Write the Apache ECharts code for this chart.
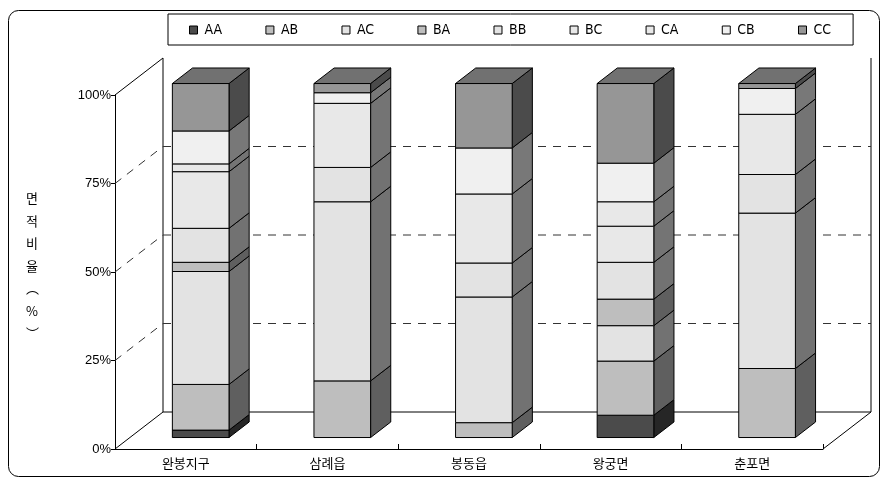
<!DOCTYPE html>
<html>
<head>
<meta charset="utf-8">
<script src="https://cdn.jsdelivr.net/npm/echarts@6/dist/echarts.min.js"></script>
<style>
html,body{margin:0;padding:0;background:#fff}
#chart{width:882px;height:480px}
</style>
</head>
<body>
<div id="chart"></div>
<script>
// Land-area share (%) of each class per district
const categories = ['완봉지구', '삼례읍', '봉동읍', '왕궁면', '춘포면'];
const classNames = ['AA', 'AB', 'AC', 'BA', 'BB', 'BC', 'CA', 'CB', 'CC'];
const AA = [2.1, 0, 0, 6.3, 0];
const AB = [12.9, 16.0, 4.2, 15.3, 19.5];
const AC = [31.9, 50.6, 35.5, 10.0, 43.9];
const BA = [2.6, 0, 0, 7.5, 0];
const BB = [9.6, 9.7, 9.6, 10.4, 10.9];
const BC = [16.0, 18.1, 19.5, 10.2, 17.0];
const CA = [2.2, 0, 0, 6.9, 0];
const CB = [9.3, 3.0, 13.0, 10.9, 7.3];
const CC = [13.4, 2.6, 18.2, 22.5, 1.4];
const yTicks = [0, 25, 50, 75, 100];

const classValues = [AA, AB, AC, BA, BB, BC, CA, CB, CC];
const classColors = ['#4b4b4b', '#bebebe', '#e3e3e3', '#bebebe', '#e3e3e3',
                     '#e8e8e8', '#e8e8e8', '#f0f0f0', '#969696'];

// oblique projection of the plot box (depth vector in pixels)
const DX = 48, DY = -37;
const FRONT = 0.31;   // bar front face depth fraction
const SIDE = 0.42;    // bar depth fraction
const BAR_FRAC = 0.40; // bar width relative to category band

function shade(hex, k) {
  const n = parseInt(hex.slice(1), 16);
  const r = Math.round(((n >> 16) & 255) * k);
  const g = Math.round(((n >> 8) & 255) * k);
  const b = Math.round((n & 255) * k);
  return 'rgb(' + r + ',' + g + ',' + b + ')';
}

// stacked segments: [category index, low, high, isTop]
const topIndex = categories.map((_, c) => {
  let t = -1;
  classValues.forEach((arr, s) => { if (arr[c] > 0) t = s; });
  return t;
});
const segData = classValues.map((arr, s) => arr.map((v, c) => {
  let lo = 0;
  for (let k = 0; k < s; k++) lo += classValues[k][c];
  return [c, lo, lo + v, topIndex[c] === s ? 1 : 0];
}));

const stroke = { stroke: '#000', lineWidth: 1 };

function renderBar(color) {
  return function (params, api) {
    const c = api.value(0), lo = api.value(1), hi = api.value(2), isTop = api.value(3);
    if (hi - lo <= 0) return null;
    const band = api.size([1, 0])[0];
    const w = band * BAR_FRAC;
    const p0 = api.coord([c, lo]);
    const p1 = api.coord([c, hi]);
    const cx = p0[0] + FRONT * DX;
    const yb = p0[1] + FRONT * DY;
    const yt = p1[1] + FRONT * DY;
    const xl = cx - w / 2, xr = cx + w / 2;
    const sx = SIDE * DX, sy = SIDE * DY;
    const children = [
      { type: 'polygon', shape: { points: [[xr, yb], [xr + sx, yb + sy], [xr + sx, yt + sy], [xr, yt]] },
        style: Object.assign({ fill: shade(color, 0.5) }, stroke) },
      { type: 'rect', shape: { x: xl, y: yt, width: w, height: yb - yt },
        style: Object.assign({ fill: color }, stroke) }
    ];
    if (isTop) {
      children.push({ type: 'polygon', shape: { points: [[xl, yt], [xl + sx, yt + sy], [xr + sx, yt + sy], [xr, yt]] },
        style: Object.assign({ fill: shade(color, 0.75) }, stroke) });
    }
    return { type: 'group', children: children };
  };
}

// walls, floor and back gridlines of the box
function renderWalls(params, api) {
  const cs = params.coordSys;
  const x0 = cs.x, x1 = cs.x + cs.width;
  const y = v => api.coord([0, v])[1];
  const solid = { stroke: '#000', lineWidth: 1 };
  const dashed = { stroke: '#333', lineWidth: 1, lineDash: [8, 7] };
  const ch = [];
  const line = (a, b, st) => ch.push({ type: 'line', shape: { x1: a[0], y1: a[1], x2: b[0], y2: b[1] }, style: st });
  const y0 = y(0), yMax = y(100);
  line([x0, yMax], [x0 + DX, yMax + DY], solid);
  line([x0, y0], [x0 + DX, y0 + DY], solid);
  line([x0 + DX, y0 + DY], [x0 + DX, yMax + DY], solid);
  line([x0 + DX, y0 + DY], [x1 + DX, y0 + DY], solid);
  line([x1 + DX, y0 + DY], [x1 + DX, yMax + DY], solid);
  line([x1, y0], [x1 + DX, y0 + DY], solid);
  yTicks.forEach(v => {
    if (v === 0 || v === 100) return;
    const yy = y(v);
    line([x0, yy], [x0 + DX, yy + DY], dashed);
    line([x0 + DX, yy + DY], [x1 + DX, yy + DY], dashed);
  });
  return { type: 'group', children: ch };
}

const series = [{
  type: 'custom',
  name: 'walls',
  silent: true,
  z: 1,
  renderItem: renderWalls,
  data: [[0, 0]]
}];
classNames.forEach((name, s) => {
  series.push({
    type: 'custom',
    name: name,
    z: 2,
    itemStyle: { color: classColors[s] },
    renderItem: renderBar(classColors[s]),
    encode: { x: 0, y: [1, 2] },
    data: segData[s]
  });
});

const chart = echarts.init(document.getElementById('chart'), null, { renderer: 'canvas' });
chart.setOption({
  animation: false,
  backgroundColor: '#fff',
  textStyle: { fontFamily: "'Noto Sans CJK KR', sans-serif" },
  grid: { left: 115, right: 59, top: 95, bottom: 31, containLabel: false },
  legend: {
    data: classNames,
    left: 168,
    top: 14,
    orient: 'horizontal',
    padding: [9, 22, 8, 21],
    itemGap: 43.3,
    itemWidth: 8,
    itemHeight: 8,
    icon: 'rect',
    borderColor: '#000',
    borderWidth: 1,
    itemStyle: { borderColor: '#000', borderWidth: 1 },
    textStyle: {
      fontFamily: "'Liberation Sans Narrow', 'DejaVu Sans Condensed', sans-serif",
      fontSize: 14, color: '#000', width: 18, padding: [0, 0, 0, 2]
    }
  },
  xAxis: {
    type: 'category',
    data: categories,
    axisLine: { lineStyle: { color: '#000', width: 1 } },
    axisTick: { show: true, inside: true, length: 5, lineStyle: { color: '#000' } },
    axisLabel: { color: '#000', fontSize: 13, margin: 8, fontFamily: "'Noto Sans CJK KR', sans-serif" },
    splitLine: { show: false }
  },
  yAxis: {
    type: 'value',
    min: 0,
    max: 100,
    interval: 25,
    axisLine: { show: true, lineStyle: { color: '#000', width: 1 } },
    axisTick: { show: true, length: 4, lineStyle: { color: '#000' } },
    axisLabel: { color: '#000', fontSize: 13, margin: 4, formatter: '{value}%',
                 fontFamily: "'Liberation Sans', Arial, sans-serif" },
    splitLine: { show: false }
  },
  graphic: [
    { type: 'rect', z: 0, silent: true,
      shape: { x: 8.5, y: 10.5, width: 871, height: 466, r: 10 },
      style: { fill: 'none', stroke: '#000', lineWidth: 1 } },
    { type: 'text', left: 26, top: 187, silent: true,
      style: { text: '면\n적\n비\n율\n︵\n%\n︶', fontSize: 13, lineHeight: 22.5, fill: '#000',
               align: 'center', fontFamily: "'Noto Sans CJK KR', sans-serif" } }
  ],
  series: series
});
</script>
</body>
</html>
